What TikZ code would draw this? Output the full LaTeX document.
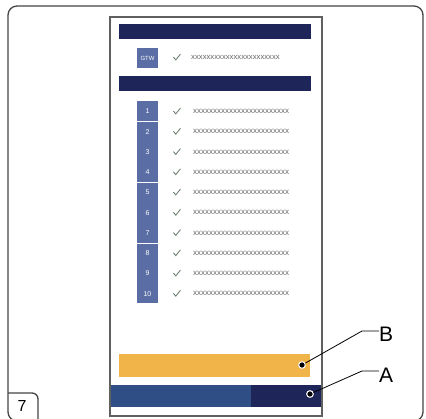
\documentclass[tikz,border=0pt]{standalone}
\usepackage{fontspec}
\setmainfont{Liberation Sans}
\definecolor{navy}{HTML}{1E2559}
\definecolor{steel}{HTML}{5A6EA5}
\definecolor{midblue}{HTML}{2E4E85}
\definecolor{amber}{HTML}{F0B449}
\definecolor{tickc}{HTML}{6E7F6E}
\definecolor{xtext}{HTML}{666666}
\definecolor{framec}{HTML}{444444}
\tikzset{
  frameline/.style={draw=framec,line width=1.3pt},
  phoneline/.style={draw=framec!85,line width=1.6pt},
  numtxt/.style={text=white,font=\fontsize{7}{7}\selectfont,inner sep=0pt},
  xrow/.style={text=xtext,font=\fontsize{8}{8}\selectfont,inner sep=0pt,anchor=west},
  tickmark/.style={draw=tickc,line width=0.9pt},
  leader/.style={draw=black,line width=0.8pt},
  calldot/.style={circle,fill=black,draw=white,line width=0.9pt,minimum size=6.5pt,inner sep=0pt},
  callout/.style={font=\fontsize{21}{21}\selectfont,inner sep=0pt,anchor=west},
}
\begin{document}
\begin{tikzpicture}[x=1pt,y=-1pt]
\useasboundingbox (0,0) rectangle (426,418);
\clip (0,0) rectangle (426,418);
% outer frame
\draw[frameline,rounded corners=9pt] (8,6) rectangle (423,421);
% figure number box
\draw[frameline,rounded corners=6pt] (8,393) -- (38,393) -- (38,422);
\node[font=\fontsize{16}{16}\selectfont,inner sep=0pt] (fig) at (22,406) {7};
% screen content
\fill[navy] (119,24) rectangle (311,39);
\fill[navy] (119,76) rectangle (311,91);
\fill[steel] (137,48) rectangle (158,68);
\node[numtxt,font=\fontsize{6}{6}\selectfont] (gtw) at (147.5,58) {GTW};
\draw[tickmark] (177,57.5) ++(-3.6,-0.4) -- ++(2.4,2.8) -- ++(4.6,-5.8);
\node[xrow,font=\fontsize{7.7}{7.7}\selectfont] (tg) at (191,57.5) {xxxxxxxxxxxxxxxxxxxxxxx};
% number boxes in groups
\fill[steel] (137,101) rectangle (158,121.2);
\fill[steel] (137,122.2) rectangle (158,181.8);
\fill[steel] (137,182.8) rectangle (158,242.6);
\fill[steel] (137,243.6) rectangle (158,303);
\foreach \i in {1,...,10} {
  \pgfmathsetmacro\yy{111.5+(\i-1)*20.25}
  \node[numtxt] (n\i) at (147.5,\yy) {\i};
  \draw[tickmark] (177,\yy) ++(-3.6,-0.4) -- ++(2.4,2.8) -- ++(4.6,-5.8);
  \node[xrow] (t\i) at (193,\yy) {xxxxxxxxxxxxxxxxxxxxxxxx};
}
% bottom bars
\fill[amber] (119,354) rectangle (310,377);
\fill[midblue] (110,385) rectangle (251,407);
\fill[navy] (251,385) rectangle (322,407);
% phone frame
\draw[phoneline] (110,17) rectangle (322,416);
% callouts
\node[callout] (labB) at (379,334) {B};
\node[callout] (labA) at (379,375) {A};
\coordinate (bendB) at (362,331);
\coordinate (bendA) at (362,371);
\node[calldot] (dotB) at (302,365) {};
\node[calldot] (dotA) at (310,394) {};
\draw[leader] (dotB) -- (bendB) -- (bendB -| labB.west);
\draw[leader] (dotA) -- (bendA) -- (bendA -| labA.west);
\node[calldot] at (dotB) {};
\node[calldot] at (dotA) {};
\end{tikzpicture}
\end{document}
